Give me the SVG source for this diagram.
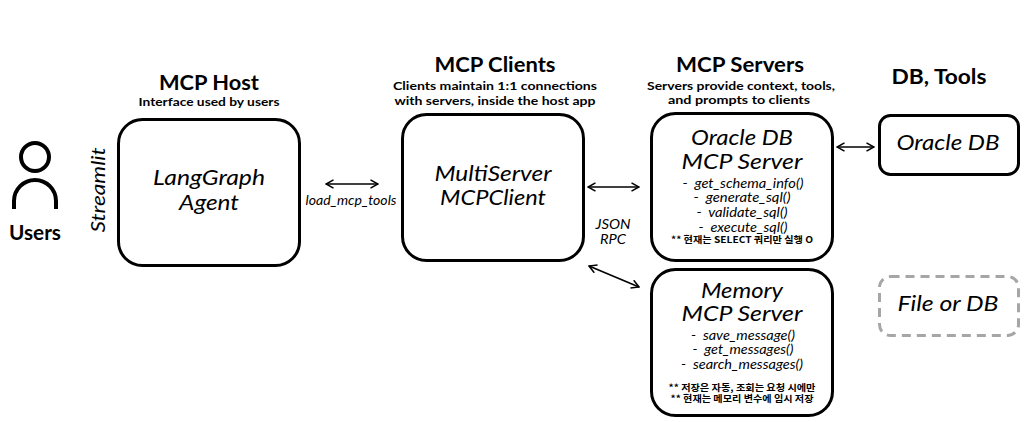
<svg xmlns="http://www.w3.org/2000/svg" width="1031" height="422" viewBox="0 0 1031 422">
<style>
text{font-family:"Lato","Open Sans","Noto Sans CJK KR",sans-serif;fill:#000;text-anchor:middle}
.box{fill:#fff;stroke:#000;stroke-width:3}
.dash{fill:#fff;stroke:#a6a6a6;stroke-width:3;stroke-dasharray:9 6}
.h{font-size:20px;font-weight:700}
.s{font-size:12px;font-weight:700}
.n{font-size:21px;font-style:italic}
.f{font-size:13px;font-style:italic;white-space:pre}
.k{font-size:9px;font-weight:700;font-family:"Noto Sans CJK KR","Noto Sans",sans-serif}
.c{fill:none;stroke:#000;stroke-width:1.6;marker-start:url(#a);marker-end:url(#a)}
</style>
<defs>
<marker id="a" viewBox="0 0 12 12" refX="11" refY="6" markerWidth="10" markerHeight="10" markerUnits="userSpaceOnUse" orient="auto-start-reverse">
<path d="M2 1L11 6L2 11" fill="none" stroke="#000" stroke-width="1.8"/>
</marker>
</defs>
<rect width="1031" height="422" fill="#fff"/>
<g id="connectors">
<line class="c" x1="326" y1="184" x2="378" y2="184"/>
<line class="c" x1="588" y1="187" x2="639" y2="187"/>
<line class="c" x1="589" y1="266" x2="639" y2="287"/>
<line class="c" x1="837" y1="147" x2="874" y2="147"/>
<text class="f" x="351" y="205" textLength="91" lengthAdjust="spacingAndGlyphs">load_mcp_tools</text>
<text class="f" x="613" y="229" textLength="35" lengthAdjust="spacingAndGlyphs">JSON</text>
<text class="f" x="613" y="244" textLength="26" lengthAdjust="spacingAndGlyphs">RPC</text>
</g>
<g id="users">
<circle cx="35" cy="157" r="14" fill="none" stroke="#000" stroke-width="4"/>
<path d="M14 209V201A21 21 0 0 1 56 201V209" fill="none" stroke="#000" stroke-width="4"/>
<text x="35" y="240" font-size="20" font-weight="700" textLength="52" lengthAdjust="spacingAndGlyphs">Users</text>
</g>
<g id="streamlit">
<text transform="translate(105,190) rotate(-90)" font-size="20" font-style="italic" textLength="85" lengthAdjust="spacingAndGlyphs">Streamlit</text>
</g>
<g id="host">
<text class="h" x="209" y="90" textLength="100" lengthAdjust="spacingAndGlyphs">MCP Host</text>
<text class="s" x="209" y="106" textLength="141" lengthAdjust="spacingAndGlyphs">Interface used by users</text>
<rect class="box" x="118.5" y="119.5" width="181" height="146" rx="24"/>
<text class="n" x="209" y="185" textLength="112" lengthAdjust="spacingAndGlyphs">LangGraph</text>
<text class="n" x="209" y="210" textLength="60" lengthAdjust="spacingAndGlyphs">Agent</text>
</g>
<g id="clients">
<text class="h" x="495" y="72" textLength="121" lengthAdjust="spacingAndGlyphs">MCP Clients</text>
<text class="s" x="495" y="90" textLength="204" lengthAdjust="spacingAndGlyphs">Clients maintain 1:1 connections</text>
<text class="s" x="495" y="105" textLength="201" lengthAdjust="spacingAndGlyphs">with servers, inside the host app</text>
<rect class="box" x="402.5" y="114.5" width="181" height="146" rx="24"/>
<text class="n" x="493" y="181" textLength="117" lengthAdjust="spacingAndGlyphs">MultiServer</text>
<text class="n" x="493" y="205" textLength="106" lengthAdjust="spacingAndGlyphs">MCPClient</text>
</g>
<g id="oracle-server">
<text class="h" x="740" y="72" textLength="128" lengthAdjust="spacingAndGlyphs">MCP Servers</text>
<text class="s" x="741" y="90" textLength="188" lengthAdjust="spacingAndGlyphs">Servers provide context, tools,</text>
<text class="s" x="739" y="104" textLength="142" lengthAdjust="spacingAndGlyphs">and prompts to clients</text>
<rect class="box" x="651.5" y="113.5" width="181" height="147" rx="24"/>
<text class="n" x="742" y="145" textLength="102" lengthAdjust="spacingAndGlyphs">Oracle DB</text>
<text class="n" x="742" y="169" textLength="121" lengthAdjust="spacingAndGlyphs">MCP Server</text>
<text class="f" x="743" y="188" textLength="121" lengthAdjust="spacingAndGlyphs">-  get_schema_info()</text>
<text class="f" x="742" y="202" textLength="97" lengthAdjust="spacingAndGlyphs">-  generate_sql()</text>
<text class="f" x="742" y="217" textLength="91" lengthAdjust="spacingAndGlyphs">-  validate_sql()</text>
<text class="f" x="743" y="232" textLength="89" lengthAdjust="spacingAndGlyphs">-  execute_sql()</text>
<text class="k" x="742" y="243" textLength="142" lengthAdjust="spacingAndGlyphs">** 현재는 SELECT 쿼리만 실행 O</text>
</g>
<g id="memory-server">
<rect class="box" x="651.5" y="269.5" width="181" height="146" rx="24"/>
<text class="n" x="742" y="298" textLength="82" lengthAdjust="spacingAndGlyphs">Memory</text>
<text class="n" x="742" y="321" textLength="121" lengthAdjust="spacingAndGlyphs">MCP Server</text>
<text class="f" x="743" y="340" textLength="104" lengthAdjust="spacingAndGlyphs">-  save_message()</text>
<text class="f" x="743" y="354" textLength="101" lengthAdjust="spacingAndGlyphs">-  get_messages()</text>
<text class="f" x="742" y="369" textLength="122" lengthAdjust="spacingAndGlyphs">-  search_messages()</text>
<text class="k" x="742" y="391" textLength="147" lengthAdjust="spacingAndGlyphs">** 저장은 자동, 조회는 요청 시에만</text>
<text class="k" x="742" y="402" textLength="143" lengthAdjust="spacingAndGlyphs">** 현재는 메모리 변수에 임시 저장</text>
</g>
<g id="oracle-db">
<text class="h" x="939" y="84" textLength="95" lengthAdjust="spacingAndGlyphs">DB, Tools</text>
<rect class="box" x="879.5" y="115.5" width="139" height="59" rx="11"/>
<text class="n" x="948" y="150" textLength="103" lengthAdjust="spacingAndGlyphs">Oracle DB</text>
</g>
<g id="file-or-db">
<rect class="dash" x="879.5" y="276.5" width="139" height="59" rx="11"/>
<text class="n" x="948" y="311" textLength="101" lengthAdjust="spacingAndGlyphs">File or DB</text>
</g>
</svg>
